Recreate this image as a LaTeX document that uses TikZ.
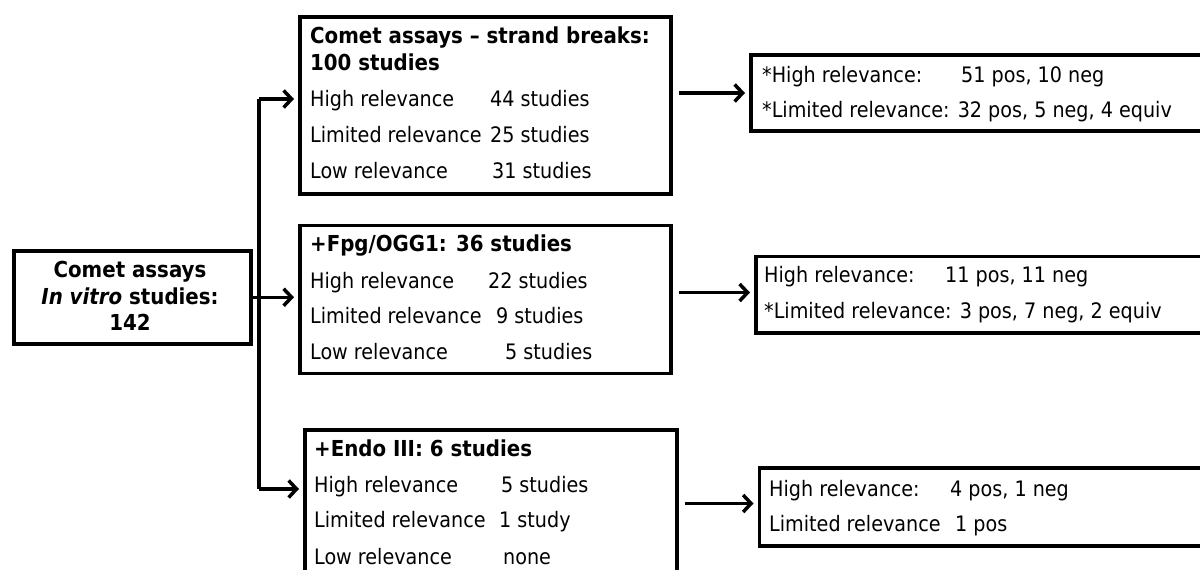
\documentclass[tikz,border=0pt]{standalone}
\usepackage{fontspec}
\setmainfont{DejaVu Sans Condensed}
\usetikzlibrary{arrows.meta}
\begin{document}
\begin{tikzpicture}[x=1pt,y=-1pt,
  box/.style={draw,line width=3.5pt,inner sep=0pt,anchor=north west},
  txt/.style={anchor=base west,inner sep=0pt,font=\fontsize{21.3}{25}\selectfont},
  btxt/.style={anchor=base west,inner sep=0pt,font=\fontsize{22}{26}\selectfont\bfseries},
  ctxt/.style={anchor=base,inner sep=0pt,font=\fontsize{22}{26}\selectfont\bfseries},
  conn/.style={line width=3.5pt},
  arr/.style={line width=3.5pt,-{Straight Barb[length=8pt,width=17pt]},shorten >=4pt}]
\useasboundingbox (0,0) rectangle (1200,570);
\fill[white] (0,0) rectangle (1200,570);
\clip (0,0) rectangle (1200,570);

% left box
\node[box,minimum width=237pt,minimum height=93pt] (L) at (12,249) {};
\node[ctxt] (l1) at (130,277) {Comet assays};
\node[ctxt] (l2) at (130,304) {\textit{In vitro} studies:};
\node[ctxt] (l3) at (130,330) {142};

% middle boxes
\node[box,minimum width=371pt,minimum height=177pt] (B1) at (298,15) {};
\node[btxt] (b1t1) at (310,43) {Comet assays – strand breaks:};
\node[btxt] (b1t2) at (310,70) {100 studies};
\node[txt] (b1a) at (310,106) {High relevance};
\node[txt] (b1b) at (490,106) {44 studies};
\node[txt] (b1c) at (310,142) {Limited relevance};
\node[txt] (b1d) at (490,142) {25 studies};
\node[txt] (b1e) at (310,178) {Low relevance};
\node[txt] (b1f) at (492,178) {31 studies};

\node[box,minimum width=371pt,minimum height=148pt] (B2) at (298,223.5) {};
\node[btxt] (b2t) at (310,251) {+Fpg/OGG1: 36 studies};
\node[txt] (b2a) at (310,288) {High relevance};
\node[txt] (b2b) at (488,288) {22 studies};
\node[txt] (b2c) at (310,323) {Limited relevance};
\node[txt] (b2d) at (496,323) {9 studies};
\node[txt] (b2e) at (310,359.5) {Low relevance};
\node[txt] (b2f) at (505,359.5) {5 studies};

\node[box,minimum width=372pt,minimum height=160pt] (B3) at (303,428) {};
\node[btxt] (b3t) at (314,456) {+Endo III: 6 studies};
\node[txt] (b3a) at (314,492) {High relevance};
\node[txt] (b3b) at (501,492) {5 studies};
\node[txt] (b3c) at (314,527.5) {Limited relevance};
\node[txt] (b3d) at (499,527.5) {1 study};
\node[txt] (b3e) at (314,564) {Low relevance};
\node[txt] (b3f) at (503,564) {none};

% right boxes
\node[box,minimum width=480pt,minimum height=76pt] (R1) at (749,53) {};
\node[txt] (r1a) at (762,82) {*High relevance:};
\node[txt] (r1b) at (961,82) {51 pos, 10 neg};
\node[txt] (r1c) at (762,117) {*Limited relevance: 32 pos, 5 neg, 4 equiv};

\node[box,minimum width=480pt,minimum height=76.5pt] (R2) at (754,254.5) {};
\node[txt] (r2a) at (764,282) {High relevance:};
\node[txt] (r2b) at (945,282) {11 pos, 11 neg};
\node[txt] (r2c) at (764,318.5) {*Limited relevance: 3 pos, 7 neg, 2 equiv};

\node[box,minimum width=480pt,minimum height=78pt] (R3) at (757.5,466) {};
\node[txt] (r3a) at (769,496) {High relevance:};
\node[txt] (r3b) at (950,496) {4 pos, 1 neg};
\node[txt] (r3c) at (769,531.5) {Limited relevance};
\node[txt] (r3d) at (955,531.5) {1 pos};

% connectors
\coordinate (J1) at (259,99);
\coordinate (J3) at (259,489);
\draw[conn] (J1) -- (J3);
\draw[arr] (J1) -- (B1.west |- J1);
\draw[arr] (J3) -- (B3.west |- J3);
\draw[arr] (L.east) -- (B2.west |- L.east);

\coordinate (a1) at (0,93);
\coordinate (a2) at (0,292.5);
\coordinate (a3) at (0,503.5);
\draw[arr,shorten <=6pt] (B1.east |- a1) -- (R1.west |- a1);
\draw[arr,shorten <=6pt] (B2.east |- a2) -- (R2.west |- a2);
\draw[arr,shorten <=6pt] (B3.east |- a3) -- (R3.west |- a3);
\end{tikzpicture}
\end{document}
